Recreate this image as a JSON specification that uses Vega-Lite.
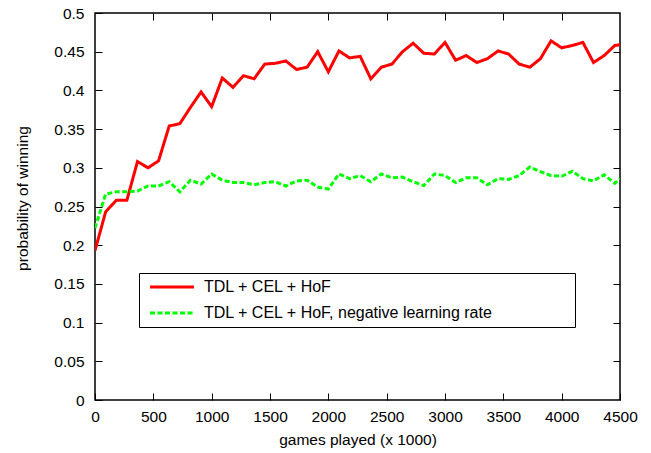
{
  "$schema": "https://vega.github.io/schema/vega-lite/v6.json",
  "width": 525,
  "height": 387,
  "autosize": {"type": "none"},
  "padding": {"left": 95, "top": 13, "right": 31, "bottom": 53},
  "background": "white",
  "config": {
    "font": "Liberation Sans",
    "view": {"stroke": "#000", "strokeWidth": 1.5},
    "axis": {
      "domain": false,
      "labelFont": "Liberation Sans",
      "labelFontSize": 15.5,
      "labelColor": "#000",
      "titleFont": "Liberation Sans",
      "titleFontSize": 15.5,
      "titleFontWeight": "normal",
      "titleColor": "#000",
      "tickColor": "#000",
      "tickWidth": 1,
      "tickSize": -7,
      "gridColor": "#000",
      "gridDash": [1, 3],
      "gridOpacity": 0.8,
      "gridWidth": 1
    }
  },
  "data": {
    "values": [
      {"games": 0, "p": 0.193, "series": "TDL + CEL + HoF"},
      {"games": 91, "p": 0.243, "series": "TDL + CEL + HoF"},
      {"games": 182, "p": 0.258, "series": "TDL + CEL + HoF"},
      {"games": 273, "p": 0.258, "series": "TDL + CEL + HoF"},
      {"games": 364, "p": 0.308, "series": "TDL + CEL + HoF"},
      {"games": 455, "p": 0.300, "series": "TDL + CEL + HoF"},
      {"games": 545, "p": 0.309, "series": "TDL + CEL + HoF"},
      {"games": 636, "p": 0.354, "series": "TDL + CEL + HoF"},
      {"games": 727, "p": 0.357, "series": "TDL + CEL + HoF"},
      {"games": 818, "p": 0.378, "series": "TDL + CEL + HoF"},
      {"games": 909, "p": 0.398, "series": "TDL + CEL + HoF"},
      {"games": 1000, "p": 0.379, "series": "TDL + CEL + HoF"},
      {"games": 1091, "p": 0.416, "series": "TDL + CEL + HoF"},
      {"games": 1182, "p": 0.404, "series": "TDL + CEL + HoF"},
      {"games": 1273, "p": 0.419, "series": "TDL + CEL + HoF"},
      {"games": 1364, "p": 0.415, "series": "TDL + CEL + HoF"},
      {"games": 1455, "p": 0.434, "series": "TDL + CEL + HoF"},
      {"games": 1545, "p": 0.435, "series": "TDL + CEL + HoF"},
      {"games": 1636, "p": 0.438, "series": "TDL + CEL + HoF"},
      {"games": 1727, "p": 0.427, "series": "TDL + CEL + HoF"},
      {"games": 1818, "p": 0.430, "series": "TDL + CEL + HoF"},
      {"games": 1909, "p": 0.450, "series": "TDL + CEL + HoF"},
      {"games": 2000, "p": 0.424, "series": "TDL + CEL + HoF"},
      {"games": 2091, "p": 0.451, "series": "TDL + CEL + HoF"},
      {"games": 2182, "p": 0.442, "series": "TDL + CEL + HoF"},
      {"games": 2273, "p": 0.444, "series": "TDL + CEL + HoF"},
      {"games": 2364, "p": 0.415, "series": "TDL + CEL + HoF"},
      {"games": 2455, "p": 0.430, "series": "TDL + CEL + HoF"},
      {"games": 2545, "p": 0.434, "series": "TDL + CEL + HoF"},
      {"games": 2636, "p": 0.450, "series": "TDL + CEL + HoF"},
      {"games": 2727, "p": 0.461, "series": "TDL + CEL + HoF"},
      {"games": 2818, "p": 0.448, "series": "TDL + CEL + HoF"},
      {"games": 2909, "p": 0.447, "series": "TDL + CEL + HoF"},
      {"games": 3000, "p": 0.462, "series": "TDL + CEL + HoF"},
      {"games": 3091, "p": 0.439, "series": "TDL + CEL + HoF"},
      {"games": 3182, "p": 0.445, "series": "TDL + CEL + HoF"},
      {"games": 3273, "p": 0.436, "series": "TDL + CEL + HoF"},
      {"games": 3364, "p": 0.441, "series": "TDL + CEL + HoF"},
      {"games": 3455, "p": 0.451, "series": "TDL + CEL + HoF"},
      {"games": 3545, "p": 0.447, "series": "TDL + CEL + HoF"},
      {"games": 3636, "p": 0.434, "series": "TDL + CEL + HoF"},
      {"games": 3727, "p": 0.430, "series": "TDL + CEL + HoF"},
      {"games": 3818, "p": 0.441, "series": "TDL + CEL + HoF"},
      {"games": 3909, "p": 0.464, "series": "TDL + CEL + HoF"},
      {"games": 4000, "p": 0.455, "series": "TDL + CEL + HoF"},
      {"games": 4091, "p": 0.458, "series": "TDL + CEL + HoF"},
      {"games": 4182, "p": 0.462, "series": "TDL + CEL + HoF"},
      {"games": 4273, "p": 0.436, "series": "TDL + CEL + HoF"},
      {"games": 4364, "p": 0.445, "series": "TDL + CEL + HoF"},
      {"games": 4455, "p": 0.458, "series": "TDL + CEL + HoF"},
      {"games": 4500, "p": 0.459, "series": "TDL + CEL + HoF"},
      {"games": 0, "p": 0.222, "series": "TDL + CEL + HoF, negative learning rate"},
      {"games": 91, "p": 0.266, "series": "TDL + CEL + HoF, negative learning rate"},
      {"games": 182, "p": 0.269, "series": "TDL + CEL + HoF, negative learning rate"},
      {"games": 273, "p": 0.269, "series": "TDL + CEL + HoF, negative learning rate"},
      {"games": 364, "p": 0.270, "series": "TDL + CEL + HoF, negative learning rate"},
      {"games": 455, "p": 0.2765, "series": "TDL + CEL + HoF, negative learning rate"},
      {"games": 545, "p": 0.2765, "series": "TDL + CEL + HoF, negative learning rate"},
      {"games": 636, "p": 0.282, "series": "TDL + CEL + HoF, negative learning rate"},
      {"games": 727, "p": 0.269, "series": "TDL + CEL + HoF, negative learning rate"},
      {"games": 818, "p": 0.284, "series": "TDL + CEL + HoF, negative learning rate"},
      {"games": 909, "p": 0.279, "series": "TDL + CEL + HoF, negative learning rate"},
      {"games": 1000, "p": 0.292, "series": "TDL + CEL + HoF, negative learning rate"},
      {"games": 1091, "p": 0.284, "series": "TDL + CEL + HoF, negative learning rate"},
      {"games": 1182, "p": 0.281, "series": "TDL + CEL + HoF, negative learning rate"},
      {"games": 1273, "p": 0.281, "series": "TDL + CEL + HoF, negative learning rate"},
      {"games": 1364, "p": 0.278, "series": "TDL + CEL + HoF, negative learning rate"},
      {"games": 1455, "p": 0.281, "series": "TDL + CEL + HoF, negative learning rate"},
      {"games": 1545, "p": 0.282, "series": "TDL + CEL + HoF, negative learning rate"},
      {"games": 1636, "p": 0.2765, "series": "TDL + CEL + HoF, negative learning rate"},
      {"games": 1727, "p": 0.283, "series": "TDL + CEL + HoF, negative learning rate"},
      {"games": 1818, "p": 0.284, "series": "TDL + CEL + HoF, negative learning rate"},
      {"games": 1909, "p": 0.275, "series": "TDL + CEL + HoF, negative learning rate"},
      {"games": 2000, "p": 0.2725, "series": "TDL + CEL + HoF, negative learning rate"},
      {"games": 2091, "p": 0.292, "series": "TDL + CEL + HoF, negative learning rate"},
      {"games": 2182, "p": 0.286, "series": "TDL + CEL + HoF, negative learning rate"},
      {"games": 2273, "p": 0.290, "series": "TDL + CEL + HoF, negative learning rate"},
      {"games": 2364, "p": 0.282, "series": "TDL + CEL + HoF, negative learning rate"},
      {"games": 2455, "p": 0.292, "series": "TDL + CEL + HoF, negative learning rate"},
      {"games": 2545, "p": 0.287, "series": "TDL + CEL + HoF, negative learning rate"},
      {"games": 2636, "p": 0.288, "series": "TDL + CEL + HoF, negative learning rate"},
      {"games": 2727, "p": 0.282, "series": "TDL + CEL + HoF, negative learning rate"},
      {"games": 2818, "p": 0.277, "series": "TDL + CEL + HoF, negative learning rate"},
      {"games": 2909, "p": 0.292, "series": "TDL + CEL + HoF, negative learning rate"},
      {"games": 3000, "p": 0.290, "series": "TDL + CEL + HoF, negative learning rate"},
      {"games": 3091, "p": 0.281, "series": "TDL + CEL + HoF, negative learning rate"},
      {"games": 3182, "p": 0.287, "series": "TDL + CEL + HoF, negative learning rate"},
      {"games": 3273, "p": 0.287, "series": "TDL + CEL + HoF, negative learning rate"},
      {"games": 3364, "p": 0.278, "series": "TDL + CEL + HoF, negative learning rate"},
      {"games": 3455, "p": 0.286, "series": "TDL + CEL + HoF, negative learning rate"},
      {"games": 3545, "p": 0.285, "series": "TDL + CEL + HoF, negative learning rate"},
      {"games": 3636, "p": 0.290, "series": "TDL + CEL + HoF, negative learning rate"},
      {"games": 3727, "p": 0.301, "series": "TDL + CEL + HoF, negative learning rate"},
      {"games": 3818, "p": 0.295, "series": "TDL + CEL + HoF, negative learning rate"},
      {"games": 3909, "p": 0.290, "series": "TDL + CEL + HoF, negative learning rate"},
      {"games": 4000, "p": 0.289, "series": "TDL + CEL + HoF, negative learning rate"},
      {"games": 4091, "p": 0.2955, "series": "TDL + CEL + HoF, negative learning rate"},
      {"games": 4182, "p": 0.286, "series": "TDL + CEL + HoF, negative learning rate"},
      {"games": 4273, "p": 0.283, "series": "TDL + CEL + HoF, negative learning rate"},
      {"games": 4364, "p": 0.291, "series": "TDL + CEL + HoF, negative learning rate"},
      {"games": 4455, "p": 0.280, "series": "TDL + CEL + HoF, negative learning rate"},
      {"games": 4500, "p": 0.286, "series": "TDL + CEL + HoF, negative learning rate"}
    ]
  },
  "resolve": {"axis": {"x": "independent", "y": "independent"}},
  "layer": [
    {
      "mark": {"type": "line", "strokeWidth": 3, "opacity": 0},
      "encoding": {
        "x": {"field": "games", "type": "quantitative",
          "scale": {"domain": [0, 4500], "nice": false},
          "axis": {"orient": "top", "labels": false, "grid": false, "title": null, "values": [500,1000,1500,2000,2500,3000,3500,4000]}},
        "y": {"field": "p", "type": "quantitative",
          "scale": {"domain": [0, 0.5], "nice": false},
          "axis": {"orient": "right", "labels": false, "grid": false, "title": null, "values": [0.05,0.1,0.15,0.2,0.25,0.3,0.35,0.4,0.45]}},
        "detail": {"field": "series"}
      }
    },
    {
      "mark": {"type": "line", "strokeWidth": 3, "clip": true},
      "encoding": {
        "x": {"field": "games", "type": "quantitative",
          "scale": {"domain": [0, 4500], "nice": false},
          "axis": {"orient": "bottom", "title": "games played (x 1000)", "format": "d", "values": [0,500,1000,1500,2000,2500,3000,3500,4000,4500], "labelPadding": 16, "titlePadding": 8, "labelFlush": false}},
        "y": {"field": "p", "type": "quantitative",
          "scale": {"domain": [0, 0.5], "nice": false},
          "axis": {"orient": "left", "title": "probability of winning", "titleY": 185, "values": [0,0.05,0.1,0.15,0.2,0.25,0.3,0.35,0.4,0.45,0.5], "format": ".2~f", "labelPadding": 18, "titlePadding": 23, "labelFlush": false}},
        "color": {"field": "series", "type": "nominal",
          "scale": {"domain": ["TDL + CEL + HoF", "TDL + CEL + HoF, negative learning rate"], "range": ["#ff0000", "#00ff00"]},
          "legend": {
            "title": "\u00a0", "titleOrient": "right", "titlePadding": 76, "titleFontSize": 16,
            "orient": "none", "legendX": 44, "legendY": 260,
            "strokeColor": "#000", "fillColor": "white", "padding": 6,
            "symbolType": "M-4,0H4", "symbolSize": 121, "symbolStrokeWidth": 3, "symbolOffset": 19,
            "labelFont": "Liberation Sans", "labelFontSize": 16, "labelColor": "#000", "labelOffset": 24, "labelLimit": 600,
            "rowPadding": 10
          }},
        "strokeDash": {"field": "series", "type": "nominal",
          "scale": {"domain": ["TDL + CEL + HoF", "TDL + CEL + HoF, negative learning rate"], "range": [[1, 0], [5, 2.5]]},
          "legend": null}
      }
    }
  ]
}
